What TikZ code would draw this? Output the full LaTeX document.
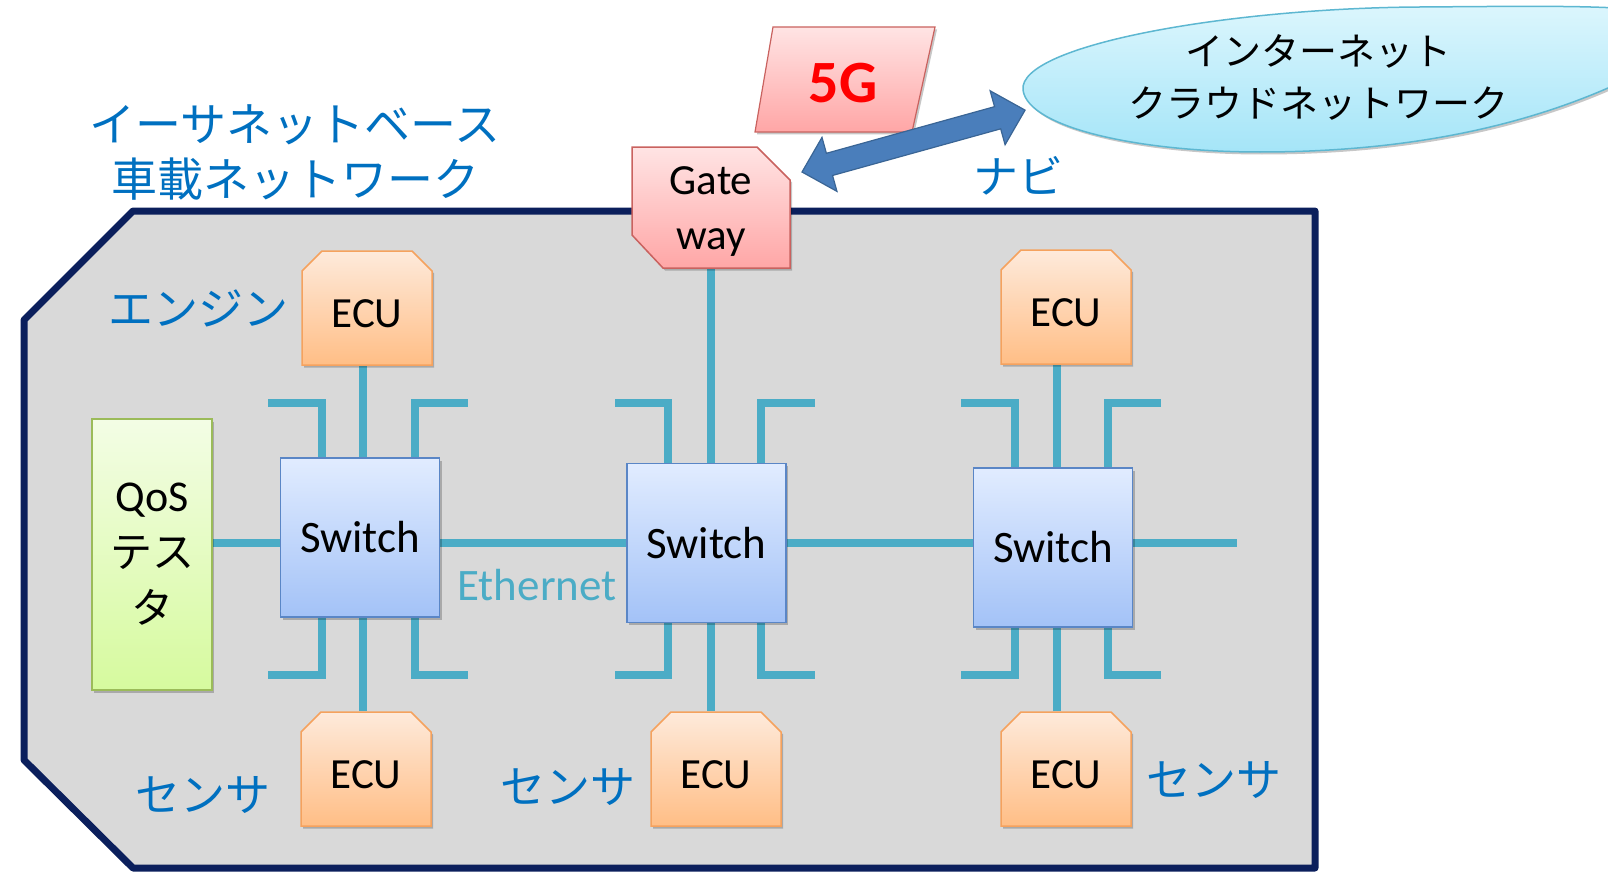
\documentclass[tikz,border=0pt]{standalone}
\usepackage{fontspec}
\setmainfont{Carlito}
\newfontfamily\jp{Noto Sans CJK JP}
\usetikzlibrary{shapes.misc,shapes.geometric,shadows,backgrounds}

\definecolor{bodyfill}{HTML}{D9D9D9}
\definecolor{bodyline}{HTML}{0B1F5C}
\definecolor{ethcol}{HTML}{4BACC6}
\definecolor{lblblue}{HTML}{0070C0}
\definecolor{ecutop}{HTML}{FEEADB}
\definecolor{ecubot}{HTML}{FFBE86}
\definecolor{eculine}{HTML}{F5A25E}
\definecolor{swtop}{HTML}{E1ECFF}
\definecolor{swbot}{HTML}{A3C2F7}
\definecolor{swline}{HTML}{5A86C6}
\definecolor{qostop}{HTML}{F3FDE5}
\definecolor{qosbot}{HTML}{D6FA9E}
\definecolor{qosline}{HTML}{9BBB59}
\definecolor{redtop}{HTML}{FFE4E4}
\definecolor{redbot}{HTML}{FFA6A6}
\definecolor{redline}{HTML}{C9625F}
\definecolor{cloudtop}{HTML}{DCF6FD}
\definecolor{cloudbot}{HTML}{A5E5F8}
\definecolor{cloudline}{HTML}{5DB7D1}
\definecolor{arrowfill}{HTML}{4A7EBB}
\definecolor{arrowline}{HTML}{3A6595}

\newcommand\setfs[2]{\fontsize{#1}{#2}\selectfont}

\begin{document}
\begin{tikzpicture}[x=1pt,y=-1pt,
  boxshadow/.style={drop shadow={shadow xshift=2pt,shadow yshift=-2.5pt,opacity=.22,fill=black}},
  ecubox/.style={chamfered rectangle,
    chamfered rectangle corners={north west,north east},
    chamfered rectangle sep=10pt,
    minimum width=130pt, minimum height=114pt, inner sep=0pt,
    top color=ecutop, bottom color=ecubot, draw=eculine, line width=1.5pt,
    boxshadow, font=\setfs{43}{50}, text height=38pt, text depth=0pt},
  switchbox/.style={rectangle, minimum width=159pt, minimum height=159pt, inner sep=0pt,
    top color=swtop, bottom color=swbot, draw=swline, line width=1.5pt,
    boxshadow, font=\setfs{45}{50}},
  qosbox/.style={rectangle, minimum width=120pt, minimum height=271pt, inner sep=0pt,
    top color=qostop, bottom color=qosbot, draw=qosline, line width=1.5pt,
    boxshadow, align=center, font=\setfs{44}{56}},
  lbl/.style={text=lblblue, font=\jp\setfs{45}{55}, align=center, inner sep=0pt},
  eth/.style={draw=ethcol, line width=8pt}
]
\useasboundingbox (0,0) rectangle (1608,872);

% ---- cloud (runs off the right edge) ----
\shade[top color=cloudtop, bottom color=cloudbot, draw=cloudline, line width=1.5pt, boxshadow]
  (1023,90) .. controls (1018,45) and (1230,8) .. (1420,7)
  .. controls (1560,6) and (1660,4) .. (1680,20)
  .. controls (1690,40) and (1650,70) .. (1608,88)
  .. controls (1500,135) and (1380,152) .. (1260,152)
  .. controls (1140,152) and (1028,128) .. (1023,90) -- cycle;
\node[font=\jp\setfs{38}{52}, align=center] (cloud) at (1318,77)
  {インターネット\\クラウドネットワーク};

% ---- title ----
\node[lbl, font=\jp\setfs{46}{55}] (title) at (295,152) {イーサネットベース\\車載ネットワーク};

% ---- ECUs ----
\node[ecubox] (e1) at (367,308) {ECU};
\node[ecubox] (e2) at (1066,307) {ECU};
\node[ecubox] (e3) at (366,769) {ECU};
\node[ecubox] (e4) at (716,769) {ECU};
\node[ecubox] (e5) at (1066,769) {ECU};

% ---- switches ----
\node[switchbox] (s1) at (360,537.5) {Switch};
\node[switchbox] (s2) at (706.5,543) {Switch};
\node[switchbox] (s3) at (1053,547.5) {Switch};

% ---- QoS tester ----
\node[qosbox] (qos) at (152,554.5) {QoS\\{\jp\setfs{42}{56}テス}\\{\jp\setfs{42}{56}タ}};

% ---- gateway: box with two cut corners ----
\node[rectangle, minimum width=158pt, minimum height=121pt, inner sep=0pt, outer sep=0pt]
  (gw) at (711,207.5) {};
\shade[top color=redtop, bottom color=redbot, draw=redline, line width=1.5pt, boxshadow]
  (gw.north west) -- ([xshift=-33pt]gw.north east) -- ([yshift=-33pt]gw.north east)
  -- (gw.south east) -- ([xshift=31pt]gw.south west) -- ([yshift=33pt]gw.south west) -- cycle;
\node[align=center, font=\setfs{43}{55}, inner sep=0pt] (gwtxt) at (711,212) {Gate\\way};

% ---- 5G ----
\shade[top color=redtop, bottom color=redbot, draw=redline, line width=1.2pt, boxshadow]
  (755,132) -- (773,27) -- (935,27) -- (912,132) -- cycle;
\node[text=red, font=\bfseries\setfs{60}{60}] (fiveg) at (843,83) {5G};

% ---- link arrow between gateway and cloud ----
\begin{scope}[shift={(802,172)}, rotate=15.5, y=1pt]
  \filldraw[fill=arrowfill, draw=arrowline, line width=1.2pt, line join=miter]
    (0,0) -- (28.5,28) -- (28.5,11.5) -- (203,11.5) -- (203,28) -- (231.5,0)
    -- (203,-28) -- (203,-11.5) -- (28.5,-11.5) -- (28.5,-28) -- cycle;
\end{scope}

% ---- labels ----
\node[lbl] (navi) at (1018,176) {ナビ};
\node[lbl] (engine) at (198,308) {エンジン};
\node[lbl] (sens1) at (203,795) {センサ};
\node[lbl] (sens2) at (568,787) {センサ};
\node[lbl] (sens3) at (1214,780) {センサ};
\node[text=ethcol, font=\setfs{45}{50}, inner sep=0pt] (ethtxt) at (537,585) {Ethernet};

% ---- vehicle body and cabling ----
\begin{scope}[on background layer]
  \filldraw[fill=bodyfill, draw=bodyline, line width=7pt, line join=round]
    (133,211) -- (1315,211) -- (1315,868) -- (133,868) -- (24,760) -- (24,320) -- cycle;

  \coordinate (hl) at (0,543);
  \coordinate (hend) at (1237,543);
  \coordinate (v1) at (363,0);
  \coordinate (v2) at (711,0);
  \coordinate (v3) at (1057,0);

  \draw[eth] (qos.east |- hl) -- (s1.west |- hl);
  \draw[eth] (s1.east |- hl) -- (s2.west |- hl);
  \draw[eth] (s2.east |- hl) -- (s3.west |- hl);
  \draw[eth] (s3.east |- hl) -- (hend);

  \draw[eth] (v1 |- e1.south) -- (v1 |- e3.north);
  \draw[eth] (v2 |- gw.south) -- (v2 |- e4.north);
  \draw[eth] (v3 |- e2.south) -- (v3 |- e5.north);

  \foreach \n/\xl in {1/280,2/627,3/973}{
    \coordinate (tl\n) at (\xl-12,403);
    \coordinate (tr\n) at (\xl+188,403);
    \coordinate (bl\n) at (\xl-12,675);
    \coordinate (br\n) at (\xl+188,675);
    \draw[eth] ([xshift=42pt]s\n.north west) |- (tl\n);
    \draw[eth] ([xshift=135pt]s\n.north west) |- (tr\n);
    \draw[eth] ([xshift=42pt]s\n.south west) |- (bl\n);
    \draw[eth] ([xshift=135pt]s\n.south west) |- (br\n);
  }
\end{scope}
\end{tikzpicture}
\end{document}
